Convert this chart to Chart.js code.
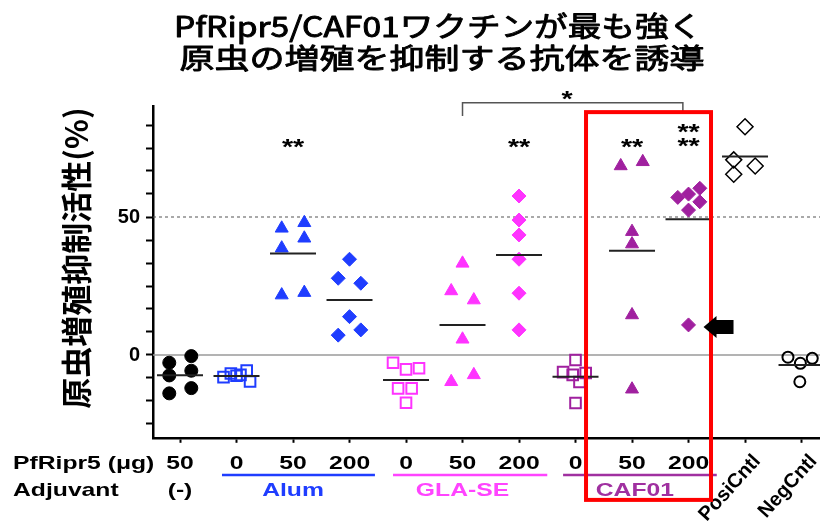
<!DOCTYPE html>
<html><head><meta charset="utf-8">
<script src="https://cdn.jsdelivr.net/npm/chart.js@4.4.1/dist/chart.umd.min.js"></script>
<style>html,body{margin:0;padding:0;background:#fff;overflow:hidden}canvas{display:block}</style>
</head><body>
<canvas id="c" width="820" height="532"></canvas>
<script>
// ---------- data ----------
const titleLines = ['PfRipr5/CAF01ワクチンが最も強く', '原虫の増殖を抑制する抗体を誘導'];
const yAxisTitle = '原虫増殖抑制活性(%)';
const doseHeader = 'PfRipr5 (μg)';
const adjHeader = 'Adjuvant';
const categoryLabels = ['50','0','50','200','0','50','200','0','50','200','PosiCntl','NegCntl'];
const adjuvantLabels = ['(-)','Alum','GLA-SE','CAF01'];
const yTickValues = [-25,-50/3,-25/3,0,25/3,50/3,25,100/3,125/3,50,175/3,200/3,75,250/3];
const yTickShown = [0, 50];

const noAdj50  = [-2.8, -0.4, -7.4, -5.7, -13.9, -12.0];
const alum0    = [-8.0, -6.7, -5.6, -9.6, -7.2, -7.5];
const alum50   = [45.9, 47.9, 38.7, 42.3, 21.7, 22.6];
const alum200  = [34.7, 27.8, 26.0, 13.9, 7.2, 9.1];
const gla0     = [-2.8, -5.2, -4.8, -12.1, -12.1, -17.3];
const gla50    = [33.2, 23.2, 19.9, 5.7, -9.7, -7.2];
const gla200   = [57.6, 48.9, 43.5, 34.7, 22.4, 9.1];
const caf0     = [-1.8, -6.2, -7.2, -6.5, -9.8, -17.4];
const caf50    = [68.5, 70.0, 44.7, 40.2, 14.5, -12.4];
const caf200   = [57.1, 58.3, 60.4, 55.5, 52.5, 10.9];
const posiCntl = [82.7, 70.7, 68.5, 65.5];
const negCntl  = [-0.8, -3.0, -1.2, -9.7];
const groupMeans = [-7.3, -7.6, 36.8, 19.9, -9.1, 10.9, 36.2, -7.9, 37.8, 49.2, 71.9, -3.6];
const sigLabels = ['**','**','**','**\n**'];
const bracketLabel = '*';

// ---------- layout / style ----------
const groups = [noAdj50, alum0, alum50, alum200, gla0, gla50, gla200, caf0, caf50, caf200, posiCntl, negCntl];
const jitter = [
  [-0.19,0.2,-0.19,0.2,-0.19,0.2],
  [-0.23,-0.1,0.18,0.24,0.07,0.0],
  [-0.2,0.2,-0.2,0.2,-0.2,0.2],
  [0,-0.2,0.2,0,-0.2,0.2],
  [-0.23,0,0.23,-0.14,0.1,0],
  [0,-0.2,0.2,0,-0.2,0.2],
  [0,0,0,0,0,0],
  [0,-0.22,-0.05,0.18,0.07,0],
  [-0.2,0.19,0,0,0,0],
  [-0.19,0,0.2,0.2,0,0],
  [0,-0.2,0.18,-0.2],
  [-0.24,-0.02,0.19,-0.03]
];
const BLUE='#1f3dff', MAG='#ff33ff', PUR='#a0209f', BLK='#000';
const CLEAR='rgba(0,0,0,0)';
const markerStyles = [
  {s:'circle',r:6.5,bg:BLK,bc:BLK,bw:1},
  {s:'rect',r:7.5,bg:CLEAR,bc:BLUE,bw:2},
  {s:'triangle',r:7.5,bg:BLUE,bc:BLUE,bw:1},
  {s:'rectRot',r:7,bg:BLUE,bc:BLUE,bw:1},
  {s:'rect',r:7.5,bg:CLEAR,bc:MAG,bw:2},
  {s:'triangle',r:7.5,bg:MAG,bc:MAG,bw:1},
  {s:'rectRot',r:7,bg:MAG,bc:MAG,bw:1},
  {s:'rect',r:7.5,bg:CLEAR,bc:PUR,bw:2},
  {s:'triangle',r:7.5,bg:PUR,bc:PUR,bw:1},
  {s:'rectRot',r:7,bg:PUR,bc:PUR,bw:1},
  {s:'rectRot',r:8,bg:CLEAR,bc:BLK,bw:1.5},
  {s:'circle',r:5.5,bg:CLEAR,bc:BLK,bw:2}
];
const adjColors = [BLK, BLUE, '#ff44ff', '#a030a0'];
const adjCenters = [0, 2, 5, 8.05];
const adjSpans = [null, [0.743,3.45], [3.77,6.5], [6.78,9.5]];
const sigPos = [[2,77.5],[6,77.5],[8,77.5],[9,82.7]];
const bracket = {x1:5, x2:8.9, top:91.4, l1:86.6, l2:87.7, starX:6.85, starY:94.8};
const redBox = {x1:7.186, x2:9.398, top:88.0, bottom:-52.5};
const arrowTarget = {cat:9, y:10.9};

const datasets = [{
  label:'mean', order:0,
  data: groupMeans.map((m,i)=>({x:i,y:m})),
  pointStyle:'line', pointRadius:23, borderColor:'#222', borderWidth:2, backgroundColor:'#222'
}];
groups.forEach((g,i)=>{
  const m = markerStyles[i];
  datasets.push({
    label:categoryLabels[i], order:1,
    data: g.map((v,k)=>({x:i+jitter[i][k], y:v})),
    pointStyle:m.s, pointRadius:m.r, backgroundColor:m.bg, borderColor:m.bc, borderWidth:m.bw
  });
});

function txt(ctx, s, x, y, o){
  ctx.save(); ctx.translate(x,y); if(o.rot) ctx.rotate(o.rot); ctx.scale(o.sx||1,1);
  ctx.font=o.font; ctx.fillStyle=o.color||'#000'; ctx.textAlign=o.align||'center';
  ctx.textBaseline=o.baseline||'alphabetic'; ctx.fillText(s,0,0);
  if(o.stroke){ ctx.strokeStyle=o.color||'#000'; ctx.lineWidth=o.stroke; ctx.lineJoin='round'; ctx.strokeText(s,0,0); }
  ctx.restore();
}
const LAT = '"Liberation Sans", Arial, sans-serif';
const JP = '"Noto Sans CJK JP", sans-serif';

const overlay = {
  id:'overlay',
  beforeDatasetsDraw(chart){
    const {ctx, chartArea:a, scales:{x,y}} = chart;
    ctx.save();
    let py = y.getPixelForValue(0);
    ctx.strokeStyle='#9a9a9a'; ctx.lineWidth=1.6;
    ctx.beginPath(); ctx.moveTo(a.left,py); ctx.lineTo(a.right,py); ctx.stroke();
    py = y.getPixelForValue(50);
    ctx.setLineDash([3,3]); ctx.strokeStyle='#555'; ctx.lineWidth=1;
    ctx.beginPath(); ctx.moveTo(a.left,py); ctx.lineTo(a.right,py); ctx.stroke();
    ctx.restore();
  },
  afterDraw(chart){
    const {ctx, chartArea:a, scales:{x,y}} = chart;
    // title
    txt(ctx, titleLines[0], 438, 26, {font:'28px '+JP, sx:1.2, baseline:'middle', stroke:0.9});
    txt(ctx, titleLines[1], 442, 58, {font:'28px '+JP, sx:1.25, baseline:'middle', stroke:0.9});
    // y title
    txt(ctx, yAxisTitle, 76, 258, {font:'bold 31px '+JP, rot:-Math.PI/2, baseline:'middle'});
    // row headers
    txt(ctx, doseHeader, 13, 469, {font:'bold 19px '+LAT, sx:1.3, align:'left'});
    txt(ctx, adjHeader, 13, 496, {font:'bold 19px '+LAT, sx:1.3, align:'left'});
    // dose labels
    for(let i=0;i<10;i++) txt(ctx, categoryLabels[i], x.getPixelForValue(i), 469, {font:'bold 19px '+LAT, sx:1.3});
    for(let i=10;i<12;i++) txt(ctx, categoryLabels[i], x.getPixelForValue(i)+12, 458, {font:'bold 20px '+LAT, rot:-48*Math.PI/180, align:'right', baseline:'middle'});
    // adjuvant labels + underlines
    adjuvantLabels.forEach((l,k)=>{
      txt(ctx, l, x.getPixelForValue(adjCenters[k]), 496, {font:'bold 19px '+LAT, sx:1.3, color:adjColors[k]});
      const sp = adjSpans[k];
      if(sp){ ctx.save(); ctx.strokeStyle=adjColors[k]; ctx.lineWidth=2.5;
        ctx.beginPath(); ctx.moveTo(x.getPixelForValue(sp[0]),475); ctx.lineTo(x.getPixelForValue(sp[1]),475); ctx.stroke(); ctx.restore(); }
    });
    // significance stars
    sigPos.forEach((p,k)=>{
      const lines = sigLabels[k].split('\n');
      lines.forEach((s,j)=>{
        const cy = y.getPixelForValue(p[1]) + j*14 - (lines.length-1)*14 + (lines.length>1?14:0);
        txt(ctx, s, x.getPixelForValue(p[0]), cy+12.6, {font:'bold 22px '+LAT, sx:1.3});
      });
    });
    // bracket
    ctx.save(); ctx.strokeStyle='#555'; ctx.lineWidth=1.5;
    const bx1=x.getPixelForValue(bracket.x1), bx2=x.getPixelForValue(bracket.x2), bt=y.getPixelForValue(bracket.top);
    ctx.beginPath(); ctx.moveTo(bx1,y.getPixelForValue(bracket.l1)); ctx.lineTo(bx1,bt); ctx.lineTo(bx2,bt); ctx.lineTo(bx2,y.getPixelForValue(bracket.l2)); ctx.stroke(); ctx.restore();
    txt(ctx, bracketLabel, x.getPixelForValue(bracket.starX), y.getPixelForValue(bracket.starY)+12.6, {font:'bold 22px '+LAT, sx:1.3});
    // red box
    ctx.save(); ctx.strokeStyle='#ff0000'; ctx.lineWidth=4;
    const rx1=x.getPixelForValue(redBox.x1), rx2=x.getPixelForValue(redBox.x2), ry1=y.getPixelForValue(redBox.top), ry2=y.getPixelForValue(redBox.bottom);
    ctx.strokeRect(rx1,ry1,rx2-rx1,ry2-ry1); ctx.restore();
    // arrow
    const tx = x.getPixelForValue(arrowTarget.cat)+15, ty = y.getPixelForValue(arrowTarget.y)+2;
    ctx.save(); ctx.fillStyle='#000'; ctx.beginPath();
    ctx.moveTo(tx,ty); ctx.lineTo(tx+13,ty-11); ctx.lineTo(tx+13,ty-7); ctx.lineTo(tx+30,ty-7);
    ctx.lineTo(tx+30,ty+7); ctx.lineTo(tx+13,ty+7); ctx.lineTo(tx+13,ty+11); ctx.closePath(); ctx.fill(); ctx.restore();
  }
};

new Chart(document.getElementById('c'), {
  type:'scatter',
  data:{datasets},
  options:{
    responsive:false, animation:false, devicePixelRatio:1, events:[],
    layout:{autoPadding:false, padding:{top:106.6,left:0,right:0,bottom:0}},
    plugins:{legend:{display:false}, tooltip:{enabled:false}, title:{display:false}},
    scales:{
      x:{type:'linear', min:-0.478, max:11.327,
        afterBuildTicks(s){ s.ticks = categoryLabels.map((_,i)=>({value:i})); },
        afterFit(s){ s.height = 94.2; },
        ticks:{display:false},
        grid:{drawOnChartArea:false, drawTicks:true, tickLength:5, tickWidth:2, tickColor:'#000'},
        border:{display:true, color:'#000', width:2.5}
      },
      y:{type:'linear', min:-30, max:90,
        afterBuildTicks(s){ s.ticks = yTickValues.map(v=>({value:v})); },
        afterFit(s){ s.width = 153; },
        ticks:{autoSkip:false, padding:6, color:'#000', font:{family:LAT, size:20, weight:'bold'},
          callback(v){ for(const t of yTickShown){ if(Math.abs(v-t)<1e-6) return String(t); } return ''; }},
        grid:{drawOnChartArea:false, drawTicks:true, tickLength:7, tickWidth:2, tickColor:'#000'},
        border:{display:true, color:'#000', width:2.5}
      }
    }
  },
  plugins:[overlay]
});
</script>
</body></html>
